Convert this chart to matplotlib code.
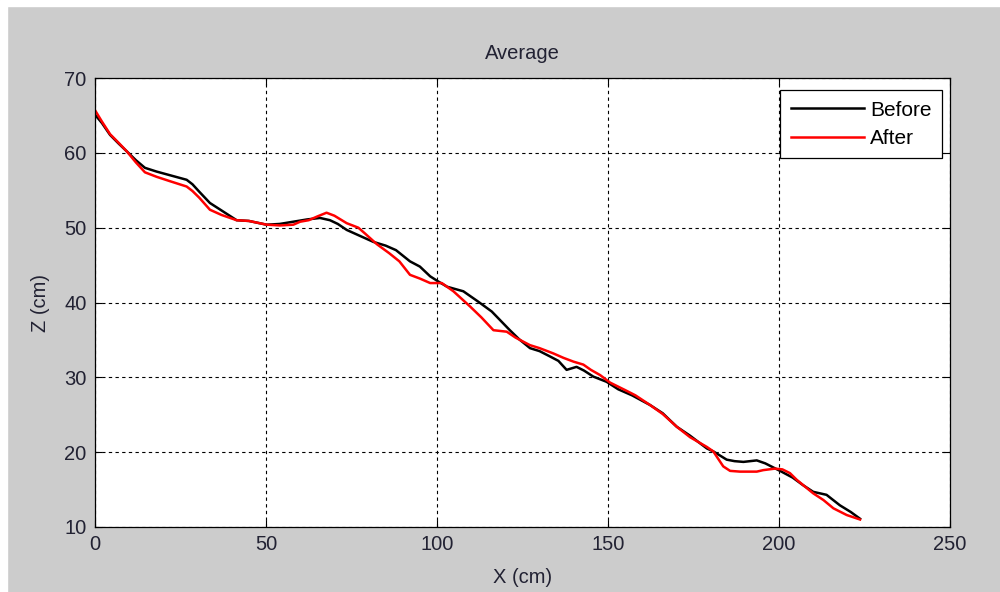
import matplotlib.pyplot as plt
from matplotlib.patches import Rectangle

plt.rcParams['font.family'] = ['Liberation Sans', 'DejaVu Sans']

before_x = [0, 2, 4.4, 7, 9.3, 12, 14.6, 18, 22, 26.8, 28.5, 30.5, 33.6, 37, 41.4, 45,
            50.2, 54, 58, 62, 65.8, 68.7, 71, 73.6, 77, 81.4, 85, 88, 92.1, 95, 98,
            100.4, 103, 107.7, 112.1, 116, 121.3, 124, 127.2, 130, 133, 135.5, 137.9,
            140.8, 143, 145.7, 149.6, 153, 157, 162.3, 166, 170.1, 174, 178.9, 180.8,
            184.7, 187, 189.6, 193.5, 196, 200.3, 204, 207, 210, 213.9, 217.8, 221, 223.7]
before_z = [65.1, 64, 62.4, 61.2, 60.2, 59, 58.0, 57.5, 57, 56.4, 55.8, 54.8, 53.3, 52.3,
            51.0, 50.9, 50.4, 50.5, 50.8, 51.1, 51.3, 51.0, 50.5, 49.7, 49.0, 48.1, 47.6,
            47, 45.5, 44.8, 43.5, 42.8, 42.1, 41.5, 40.1, 38.8, 36.3, 35.1, 33.9, 33.5,
            32.8, 32.2, 31.0, 31.4, 30.9, 30.1, 29.4, 28.4, 27.6, 26.3, 25.2, 23.4, 22.2,
            20.5, 20.1, 19.0, 18.8, 18.7, 18.9, 18.5, 17.5, 16.6, 15.6, 14.7, 14.3, 12.9,
            12.0, 11.1]

after_x = [0, 2, 4.4, 7, 9.3, 12, 14.6, 18, 22, 26.8, 28.5, 30.5, 33.6, 37, 41.4, 45,
           50.2, 54.1, 58, 60, 62.5, 65, 67.7, 70, 73.6, 77, 79, 82.4, 86, 89, 92.1, 95,
           98, 101.4, 104.8, 109.6, 113, 116.5, 120.4, 123, 127.2, 130, 134, 137, 139.9,
           142.8, 145, 147.7, 150.6, 155, 158, 162.3, 166, 170.1, 174, 178.9, 180.8,
           181.8, 183.7, 185.7, 188.6, 193.5, 195.4, 198.8, 201, 203.2, 205.2, 210, 213,
           215.9, 219.8, 223.7]
after_z = [65.7, 64.2, 62.5, 61.3, 60.2, 58.7, 57.4, 56.8, 56.2, 55.5, 54.9, 54.0, 52.4,
           51.7, 51.0, 50.9, 50.4, 50.3, 50.4, 50.8, 51.0, 51.5, 52.0, 51.6, 50.6, 50.0,
           49.2, 47.8, 46.6, 45.5, 43.7, 43.2, 42.6, 42.6, 41.5, 39.5, 38.0, 36.3, 36.1,
           35.3, 34.3, 33.9, 33.2, 32.6, 32.1, 31.7, 31.0, 30.3, 29.3, 28.3, 27.6, 26.3,
           25.1, 23.4, 22.0, 20.7, 20.1, 19.4, 18.1, 17.5, 17.4, 17.4, 17.6, 17.8, 17.7,
           17.2, 16.3, 14.5, 13.6, 12.5, 11.6, 11.0]

x_ticks = [0, 50, 100, 150, 200, 250]
z_ticks = [10, 20, 30, 40, 50, 60, 70]

fs = 14.5

fig = plt.figure(figsize=(10, 5.92), dpi=100, facecolor='#cccccc')
# thin white strip along top and left edge of the screenshot
fig.add_artist(Rectangle((0, 0.99), 1, 0.01, transform=fig.transFigure,
                         color='white', zorder=0))
fig.add_artist(Rectangle((0, 0), 0.007, 1, transform=fig.transFigure,
                         color='white', zorder=0))

ax = fig.add_axes([0.095, 0.1098, 0.855, 0.7584])
ax.set_facecolor('white')

ax.plot(before_x, before_z, color='black', lw=1.8, label='Before')
ax.plot(after_x, after_z, color='#ff0000', lw=1.8, label='After')

ax.set_xlim(0, 250)
ax.set_ylim(10, 70)
ax.set_xticks(x_ticks)
ax.set_yticks(z_ticks)
ax.grid(True, color='black', linestyle=(0, (3, 3)), lw=0.8)
ax.tick_params(direction='in', top=True, right=True, labelsize=fs, length=5,
               pad=6, labelcolor='#222233')
for s in ax.spines.values():
    s.set_linewidth(0.9)

ax.set_title('Average', fontsize=fs, pad=14, color='#222233')
ax.set_xlabel('X (cm)', fontsize=fs, labelpad=10, color='#222233')
ax.set_ylabel('Z (cm)', fontsize=fs, labelpad=10, color='#222233')

leg = ax.legend(loc='upper right', bbox_to_anchor=(0.9906, 0.973), borderaxespad=0,
                fontsize=15, handlelength=3.5, fancybox=False, framealpha=1,
                edgecolor='black', borderpad=0.5, labelspacing=0.45,
                handletextpad=0.3)
leg.get_frame().set_linewidth(0.9)

fig.savefig('out.png', dpi=100, facecolor=fig.get_facecolor())
